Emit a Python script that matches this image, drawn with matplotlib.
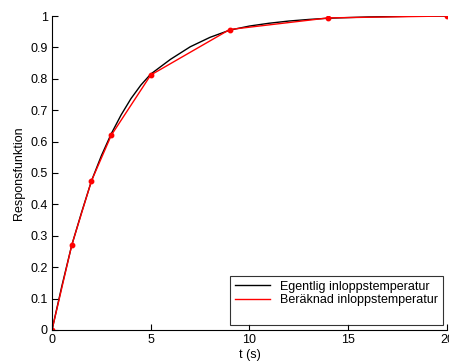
import numpy as np
import matplotlib
matplotlib.use('Agg')
import matplotlib.pyplot as plt
from matplotlib.lines import Line2D

t_actual = [0, 0.5, 1, 1.5, 2, 2.5, 3, 3.5, 4, 4.5, 5, 6, 7, 8, 9, 10,
            11, 12, 13, 14, 15, 16, 17, 18, 19, 20]
y_actual = [0, 0.14, 0.27, 0.375, 0.475, 0.555, 0.625, 0.685, 0.737, 0.78,
            0.815, 0.862, 0.902, 0.932, 0.955, 0.968, 0.977, 0.984, 0.989,
            0.993, 0.995, 0.997, 0.998, 0.999, 1.0, 1.0]

# computed response at sample points
t_calc = [0, 1, 2, 3, 5, 9, 14, 20]
y_calc = [0, 0.27, 0.475, 0.62, 0.812, 0.957, 0.994, 1.0]

plt.rcParams['font.family'] = ['Liberation Sans', 'DejaVu Sans']
plt.rcParams['font.size'] = 9

fig = plt.figure(figsize=(4.49, 3.62), dpi=100)
ax = fig.add_axes([0.1158, 0.0884, 0.8797, 0.8674])

ax.plot(t_actual, y_actual, color='black', lw=1)
ax.plot(t_calc, y_calc, color='red', lw=1, marker='o', markersize=3.2)

ax.set_xlim(0, 20)
ax.set_ylim(0, 1)
ax.set_xticks([0, 5, 10, 15, 20])
ax.set_yticks(np.arange(0, 1.01, 0.1))
ax.set_yticklabels(['0', '0.1', '0.2', '0.3', '0.4', '0.5', '0.6', '0.7', '0.8', '0.9', '1'])
ax.tick_params(direction='in', length=4, width=0.8, pad=3)
for s in ['top', 'right']:
    ax.spines[s].set_visible(False)
for s in ['left', 'bottom']:
    ax.spines[s].set_linewidth(0.8)

ax.set_xlabel('t (s)', labelpad=2)
ax.set_ylabel('Responsfunktion', labelpad=4)

# legend without markers, with blank row at the bottom (matlab style)
handles = [Line2D([], [], color='black', lw=1),
           Line2D([], [], color='red', lw=1),
           Line2D([], [], color='none')]
labels = ['Egentlig inloppstemperatur', 'Beräknad inloppstemperatur', ' ']
leg = ax.legend(handles, labels, loc='lower right', bbox_to_anchor=(0.99, 0.015),
                frameon=True, fancybox=False, edgecolor='black', handlelength=2.8,
                borderpad=0.4, labelspacing=0.15, borderaxespad=0, fontsize=9)
leg.get_frame().set_linewidth(0.8)

fig.savefig('out.png', dpi=100)
